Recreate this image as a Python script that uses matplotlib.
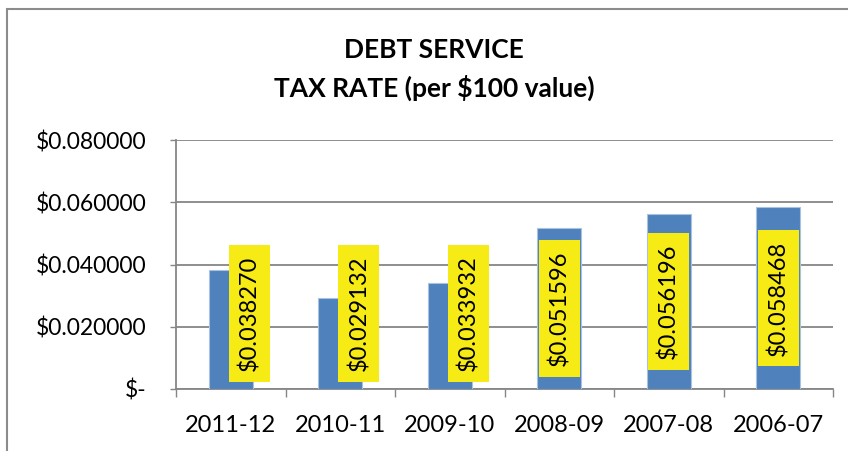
import matplotlib.pyplot as plt
from matplotlib.patches import Rectangle

plt.rcParams['font.family'] = ['Lato', 'DejaVu Sans']

years = ['2011-12', '2010-11', '2009-10', '2008-09', '2007-08', '2006-07']
rates = [0.038270, 0.029132, 0.033932, 0.051596, 0.056196, 0.058468]
yticks = [0, 0.02, 0.04, 0.06, 0.08]
ytick_labels = ['$-', '$0.020000', '$0.040000', '$0.060000', '$0.080000']

fig = plt.figure(figsize=(8.48, 4.51), dpi=100)
ax = fig.add_axes([176/848, 1 - 389/451, (833 - 176)/848, (389 - 140)/451])

grey = '#868686'
xs = range(len(years))
ax.bar(xs, rates, width=0.4, color='#4F81BD', edgecolor='#A9C2E0', linewidth=0.8, zorder=3)

# yellow data labels, centred in the bar, pushed aside when the bar is too short
box_w, box_h = 0.375, 0.044
for i, v in enumerate(rates):
    if v > box_h:
        cx, cy = i, v / 2
    else:
        cx, cy = i + 0.17, 0.0243
    ax.add_patch(Rectangle((cx - box_w/2, cy - box_h/2), box_w, box_h,
                           facecolor='#F6EB14', edgecolor='none', zorder=4))
    ax.text(cx, cy, '$%.6f' % v, rotation=90, ha='center', va='center',
            fontsize=17, color='black', zorder=5)

ax.set_xlim(-0.5, len(years) - 0.5)
ax.set_ylim(0, 0.08)
ax.set_yticks(yticks)
ax.set_yticklabels(ytick_labels)
ax.set_xticks(list(xs))
ax.set_xticklabels(years)
ax.set_xticks([i - 0.5 for i in range(len(years) + 1)], minor=True)

ax.tick_params(axis='y', length=4, width=1, color=grey, pad=17, labelsize=16.5)
ax.tick_params(axis='x', which='major', length=0, pad=19, labelsize=17)
ax.tick_params(axis='x', which='minor', length=6, width=1, color=grey)

ax.yaxis.grid(True, color=grey, linewidth=1.3, zorder=0)
ax.set_axisbelow(True)
for s in ['top', 'right']:
    ax.spines[s].set_visible(False)
for s in ['left', 'bottom']:
    ax.spines[s].set_color(grey)
    ax.spines[s].set_linewidth(1.3)

fig.text(434/848, 1 - 50/451, 'DEBT SERVICE', ha='center', va='center',
         fontsize=19, fontweight='bold')
fig.text(434/848, 1 - 88/451, 'TAX RATE (per $100 value)', ha='center', va='center',
         fontsize=19, fontweight='bold')

# chart area border (cropped on the right and bottom)
fig.add_artist(Rectangle((7/848, -0.1), 1.2, (451 - 9)/451 + 0.1, transform=fig.transFigure,
                         facecolor='none', edgecolor='#8C8C8C', linewidth=1.5, clip_on=False))

fig.savefig('out.png', dpi=100)
